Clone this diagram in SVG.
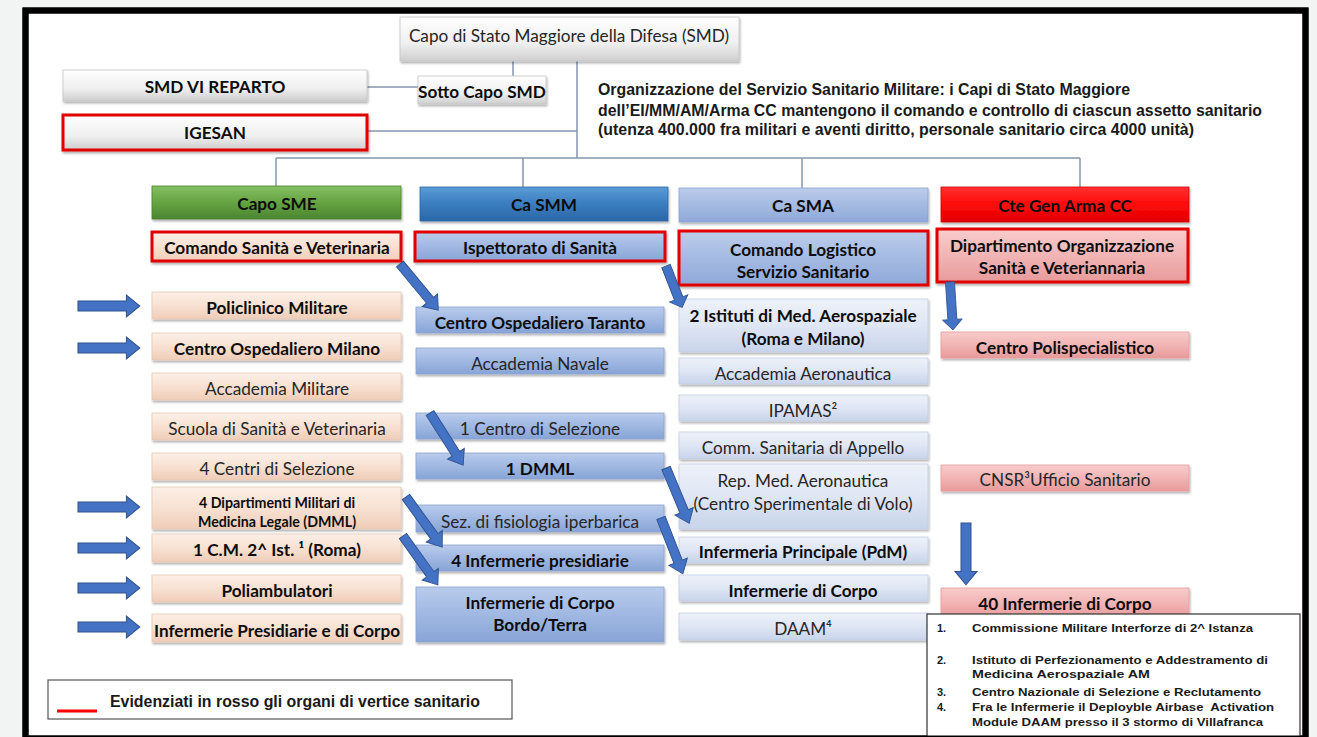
<svg xmlns="http://www.w3.org/2000/svg" xmlns:xlink="http://www.w3.org/1999/xlink" width="1317" height="737" viewBox="0 0 1317 737">
<defs>
<linearGradient id="gGray" x1="0" y1="0" x2="0" y2="1"><stop offset="0" stop-color="#ffffff"/><stop offset="0.6" stop-color="#efefef"/><stop offset="1" stop-color="#cfcfcf"/></linearGradient>
<linearGradient id="gGreen" x1="0" y1="0" x2="0" y2="1"><stop offset="0" stop-color="#84c061"/><stop offset="0.5" stop-color="#66a343"/><stop offset="1" stop-color="#4b8630"/></linearGradient>
<linearGradient id="gBlueD" x1="0" y1="0" x2="0" y2="1"><stop offset="0" stop-color="#5b9bd5"/><stop offset="0.5" stop-color="#3a7dc0"/><stop offset="1" stop-color="#2b67a6"/></linearGradient>
<linearGradient id="gBlueL" x1="0" y1="0" x2="0" y2="1"><stop offset="0" stop-color="#bdcdeb"/><stop offset="0.5" stop-color="#a4bae2"/><stop offset="1" stop-color="#8ea8d8"/></linearGradient>
<linearGradient id="gRed" x1="0" y1="0" x2="0" y2="1"><stop offset="0" stop-color="#ff3030"/><stop offset="0.5" stop-color="#ff0a0a"/><stop offset="1" stop-color="#e00000"/></linearGradient>
<linearGradient id="gPeach" x1="0" y1="0" x2="0" y2="1"><stop offset="0" stop-color="#fcefe6"/><stop offset="0.5" stop-color="#f8e1d2"/><stop offset="1" stop-color="#efcdb8"/></linearGradient>
<linearGradient id="gBlue2" x1="0" y1="0" x2="0" y2="1"><stop offset="0" stop-color="#b9cbec"/><stop offset="0.5" stop-color="#a0b8e2"/><stop offset="1" stop-color="#88a4d6"/></linearGradient>
<linearGradient id="gBlue3" x1="0" y1="0" x2="0" y2="1"><stop offset="0" stop-color="#edf1f9"/><stop offset="0.5" stop-color="#dfe6f4"/><stop offset="1" stop-color="#c8d4ea"/></linearGradient>
<linearGradient id="gPink" x1="0" y1="0" x2="0" y2="1"><stop offset="0" stop-color="#f8cccc"/><stop offset="0.5" stop-color="#f2b4b4"/><stop offset="1" stop-color="#e89a9a"/></linearGradient>
<filter id="sh" x="-5%" y="-20%" width="110%" height="150%"><feDropShadow dx="1" dy="2" stdDeviation="1.2" flood-color="#000" flood-opacity="0.3"/></filter>
<path id="arr" d="M0,-5 L47,-5 L47,-11 L60,0 L47,11 L47,5 L0,5 Z"/>
<style>
.box{filter:url(#sh);stroke-width:0.8}
.gray{fill:url(#gGray);stroke:#c4c4c4}
.green{fill:url(#gGreen);stroke:#4a7f30}
.blued{fill:url(#gBlueD);stroke:#2c6aa8}
.bluel{fill:url(#gBlueL);stroke:#8aa3d2}
.red{fill:url(#gRed);stroke:#d40000}
.peach{fill:url(#gPeach);stroke:#e6c8b4}
.blue2{fill:url(#gBlue2);stroke:#8aa3d2}
.blue3{fill:url(#gBlue3);stroke:#c2cde3}
.pink{fill:url(#gPink);stroke:#e59c9c}
.hl{stroke:#e00000;stroke-width:3}
text{font-family:Lato,"Noto Sans",sans-serif;font-size:17.2px;fill:#262626;text-anchor:middle;dominant-baseline:central}
.b{font-weight:bold;fill:#0d0d0d}
.sm{font-size:14.2px}
.ar{font-family:"Liberation Sans",Arial,sans-serif;font-weight:bold;text-anchor:start;dominant-baseline:auto;fill:#1a1a1a}
.fn{font-size:11px}
.ln{stroke:#8596ad;stroke-width:1.5;fill:none}
.ba{fill:#4472c4;stroke:#2f528f;stroke-width:1}
</style>
</defs>
<rect x="0" y="0" width="1317" height="737" fill="#f2f3f3"/>
<rect x="25.5" y="10.5" width="1280" height="728" fill="#ffffff" stroke="#000" stroke-width="6"/>

<g id="connectors">
<path class="ln" d="M513,61 V76 M577,61 V158 M367,87 H418 M367,131 H577 M276,158 H1080 M276,158 V186 M523,158 V187 M802,158 V188 M1080,158 V187"/>
</g>

<g id="n-smd"><rect class="box gray" x="400" y="17" width="339" height="44"/><text x="569" y="35" font-size="17.6">Capo di Stato Maggiore della Difesa (SMD)</text></g>
<g id="n-sottocapo"><rect class="box gray" x="418" y="76" width="128" height="28"/><text class="b" x="482" y="91" font-size="16.2">Sotto Capo SMD</text></g>
<g id="n-smdvi"><rect class="box gray" x="63" y="70" width="304" height="31"/><text class="b" x="215" y="86" font-size="16">SMD VI REPARTO</text></g>
<g id="n-igesan"><rect class="box gray hl" x="63" y="115" width="304" height="35"/><text class="b" x="215" y="132" font-size="16">IGESAN</text></g>

<g id="n-desc">
<text class="ar" x="598" y="95" font-size="14" textLength="532" lengthAdjust="spacingAndGlyphs">Organizzazione del Servizio Sanitario Militare: i Capi di Stato Maggiore</text>
<text class="ar" x="598" y="116" font-size="14" textLength="664" lengthAdjust="spacingAndGlyphs">dell’EI/MM/AM/Arma CC mantengono il comando e controllo di ciascun assetto sanitario</text>
<text class="ar" x="598" y="135" font-size="14" textLength="596" lengthAdjust="spacingAndGlyphs">(utenza 400.000 fra militari e aventi diritto, personale sanitario circa 4000 unità)</text>
</g>

<g id="n-caposme"><rect class="box green" x="152" y="186" width="249" height="33"/><text class="b" x="277" y="203">Capo SME</text></g>
<g id="n-casmm"><rect class="box blued" x="420" y="187" width="248" height="34"/><text class="b" x="544" y="204">Ca SMM</text></g>
<g id="n-casma"><rect class="box bluel" x="679" y="188" width="249" height="34"/><text class="b" x="803" y="205">Ca SMA</text></g>
<g id="n-ctegen"><rect class="box red" x="941" y="187" width="248" height="35"/><text class="b" x="1065" y="205">Cte Gen Arma CC</text></g>

<g id="n-comsan"><rect class="box peach hl" x="152" y="232" width="249" height="29"/><text class="b" x="277" y="247">Comando Sanità e Veterinaria</text></g>
<g id="n-ispett"><rect class="box blue2 hl" x="415" y="232" width="250" height="29"/><text class="b" x="540" y="247">Ispettorato di Sanità</text></g>
<g id="n-comlog"><rect class="box bluel hl" x="679" y="231" width="249" height="54"/><text class="b" x="803" y="249">Comando Logistico</text><text class="b" x="803" y="271">Servizio Sanitario</text></g>
<g id="n-dipart"><rect class="box pink hl" x="937" y="229" width="251" height="53"/><text class="b" x="1062" y="245">Dipartimento Organizzazione</text><text class="b" x="1062" y="267">Sanità e Veteriannaria</text></g>

<g id="n-policlinico"><rect class="box peach" x="152" y="292" width="249" height="27"/><text class="b" x="277" y="307">Policlinico Militare</text></g>
<g id="n-comilano"><rect class="box peach" x="152" y="333" width="249" height="27"/><text class="b" x="277" y="348">Centro Ospedaliero Milano</text></g>
<g id="n-accmil"><rect class="box peach" x="152" y="373" width="249" height="27"/><text x="277" y="388">Accademia Militare</text></g>
<g id="n-scuola"><rect class="box peach" x="152" y="413" width="249" height="27"/><text x="277" y="428">Scuola di Sanità e Veterinaria</text></g>
<g id="n-4centri"><rect class="box peach" x="152" y="453" width="249" height="27"/><text x="277" y="468">4 Centri di Selezione</text></g>
<g id="n-4dip"><rect class="box peach" x="152" y="487" width="249" height="42"/><text class="b sm" x="277" y="502">4 Dipartimenti Militari di</text><text class="b sm" x="277" y="521">Medicina Legale (DMML)</text></g>
<g id="n-1cm"><rect class="box peach" x="152" y="534" width="249" height="28"/><text class="b" x="277" y="549">1 C.M. 2^ Ist. ¹ (Roma)</text></g>
<g id="n-poliamb"><rect class="box peach" x="152" y="575" width="249" height="27"/><text class="b" x="277" y="590">Poliambulatori</text></g>
<g id="n-infpres"><rect class="box peach" x="152" y="614" width="249" height="28"/><text class="b" x="277" y="630" textLength="246" lengthAdjust="spacingAndGlyphs">Infermerie Presidiarie e di Corpo</text></g>

<g id="n-cotaranto"><rect class="box blue2" x="416" y="307" width="248" height="26"/><text class="b" x="540" y="322">Centro Ospedaliero Taranto</text></g>
<g id="n-accnav"><rect class="box blue2" x="416" y="348" width="248" height="26"/><text x="540" y="363">Accademia Navale</text></g>
<g id="n-1centro"><rect class="box blue2" x="416" y="413" width="248" height="26"/><text x="540" y="428">1 Centro di Selezione</text></g>
<g id="n-1dmml"><rect class="box blue2" x="416" y="453" width="248" height="26"/><text class="b" x="540" y="468">1 DMML</text></g>
<g id="n-sez"><rect class="box blue2" x="416" y="505" width="248" height="27"/><text x="540" y="521">Sez. di fisiologia iperbarica</text></g>
<g id="n-4inf"><rect class="box blue2" x="416" y="545" width="248" height="26"/><text class="b" x="540" y="560">4 Infermerie presidiarie</text></g>
<g id="n-infbordo"><rect class="box blue2" x="416" y="587" width="248" height="55"/><text class="b" x="540" y="602">Infermerie di Corpo</text><text class="b" x="540" y="624">Bordo/Terra</text></g>

<g id="n-2ist"><rect class="box blue3" x="679" y="299" width="249" height="53"/><text class="b" x="803" y="315">2 Istituti di Med. Aerospaziale</text><text class="b" x="803" y="338">(Roma e Milano)</text></g>
<g id="n-accaer"><rect class="box blue3" x="679" y="358" width="249" height="26"/><text x="803" y="373">Accademia Aeronautica</text></g>
<g id="n-ipamas"><rect class="box blue3" x="679" y="395" width="249" height="26"/><text x="803" y="410">IPAMAS²</text></g>
<g id="n-comm"><rect class="box blue3" x="679" y="432" width="249" height="27"/><text x="803" y="447">Comm. Sanitaria di Appello</text></g>
<g id="n-repmed"><rect class="box blue3" x="679" y="464" width="249" height="65"/><text x="803" y="480">Rep. Med. Aeronautica</text><text x="803" y="503">(Centro Sperimentale di Volo)</text></g>
<g id="n-infprinc"><rect class="box blue3" x="679" y="537" width="249" height="26"/><text class="b" x="803" y="551">Infermeria Principale (PdM)</text></g>
<g id="n-infcorpo3"><rect class="box blue3" x="679" y="575" width="249" height="26"/><text class="b" x="803" y="590">Infermerie di Corpo</text></g>
<g id="n-daam"><rect class="box blue3" x="679" y="613" width="249" height="27"/><text x="803" y="628">DAAM⁴</text></g>

<g id="n-centropoli"><rect class="box pink" x="941" y="332" width="248" height="26"/><text class="b" x="1065" y="347">Centro Polispecialistico</text></g>
<g id="n-cnsr"><rect class="box pink" x="941" y="465" width="248" height="26"/><text x="1065" y="479">CNSR³Ufficio Sanitario</text></g>
<g id="n-40inf"><rect class="box pink" x="941" y="588" width="248" height="30"/><text class="b" x="1065" y="603">40 Infermerie di Corpo</text></g>

<g id="arrows">
<use href="#arr" class="ba" transform="translate(78,306) scale(1.03,1)"/>
<use href="#arr" class="ba" transform="translate(78,348) scale(1.03,1)"/>
<use href="#arr" class="ba" transform="translate(78,507) scale(1.03,1)"/>
<use href="#arr" class="ba" transform="translate(78,548) scale(1.03,1)"/>
<use href="#arr" class="ba" transform="translate(78,588) scale(1.03,1)"/>
<use href="#arr" class="ba" transform="translate(78,627) scale(1.03,1)"/>
<use href="#arr" class="ba" transform="translate(400,264) rotate(50.4) scale(1.0,0.9)"/>
<use href="#arr" class="ba" transform="translate(666,266) rotate(68.7) scale(0.74,0.9)"/>
<use href="#arr" class="ba" transform="translate(950,282) rotate(86.4) scale(0.8,0.9)"/>
<use href="#arr" class="ba" transform="translate(430,413) rotate(57.6) scale(1.03,0.9)"/>
<use href="#arr" class="ba" transform="translate(406,497) rotate(54.2) scale(1.03,0.9)"/>
<use href="#arr" class="ba" transform="translate(403,536) rotate(54.5) scale(1.0,0.9)"/>
<use href="#arr" class="ba" transform="translate(666,468) rotate(67.3) scale(1.0,0.9)"/>
<use href="#arr" class="ba" transform="translate(661,518) rotate(68.6) scale(1.0,0.9)"/>
<use href="#arr" class="ba" transform="translate(966,523) rotate(90) scale(1.03,1)"/>
</g>

<g id="footnotes">
<rect x="927" y="614" width="373" height="125" fill="#ffffff" stroke="#333" stroke-width="1.2"/>
<text class="ar fn" x="937" y="632">1.</text>
<text class="ar fn" x="972" y="632" textLength="281" lengthAdjust="spacingAndGlyphs">Commissione Militare Interforze di 2^ Istanza</text>
<text class="ar fn" x="937" y="664">2.</text>
<text class="ar fn" x="972" y="664" textLength="296" lengthAdjust="spacingAndGlyphs">Istituto di Perfezionamento e Addestramento di</text>
<text class="ar fn" x="972" y="678" textLength="178" lengthAdjust="spacingAndGlyphs">Medicina Aerospaziale AM</text>
<text class="ar fn" x="937" y="696">3.</text>
<text class="ar fn" x="972" y="696" textLength="289" lengthAdjust="spacingAndGlyphs">Centro Nazionale di Selezione e Reclutamento</text>
<text class="ar fn" x="937" y="711">4.</text>
<text class="ar fn" x="972" y="711" textLength="302" lengthAdjust="spacingAndGlyphs">Fra le Infermerie il Deployble Airbase&#160; Activation</text>
<text class="ar fn" x="972" y="726" textLength="291" lengthAdjust="spacingAndGlyphs">Module DAAM presso il 3 stormo di Villafranca</text>
</g>

<g id="legend">
<rect x="48" y="680" width="464" height="39" fill="#ffffff" stroke="#555" stroke-width="1.2"/>
<line x1="57" y1="711" x2="97" y2="711" stroke="#ff0000" stroke-width="3"/>
<text class="ar" x="110" y="707" font-size="13" textLength="370" lengthAdjust="spacingAndGlyphs">Evidenziati in rosso gli organi di vertice sanitario</text>
</g>

<rect x="25.5" y="10.5" width="1280" height="728" fill="none" stroke="#000" stroke-width="6"/>
</svg>
